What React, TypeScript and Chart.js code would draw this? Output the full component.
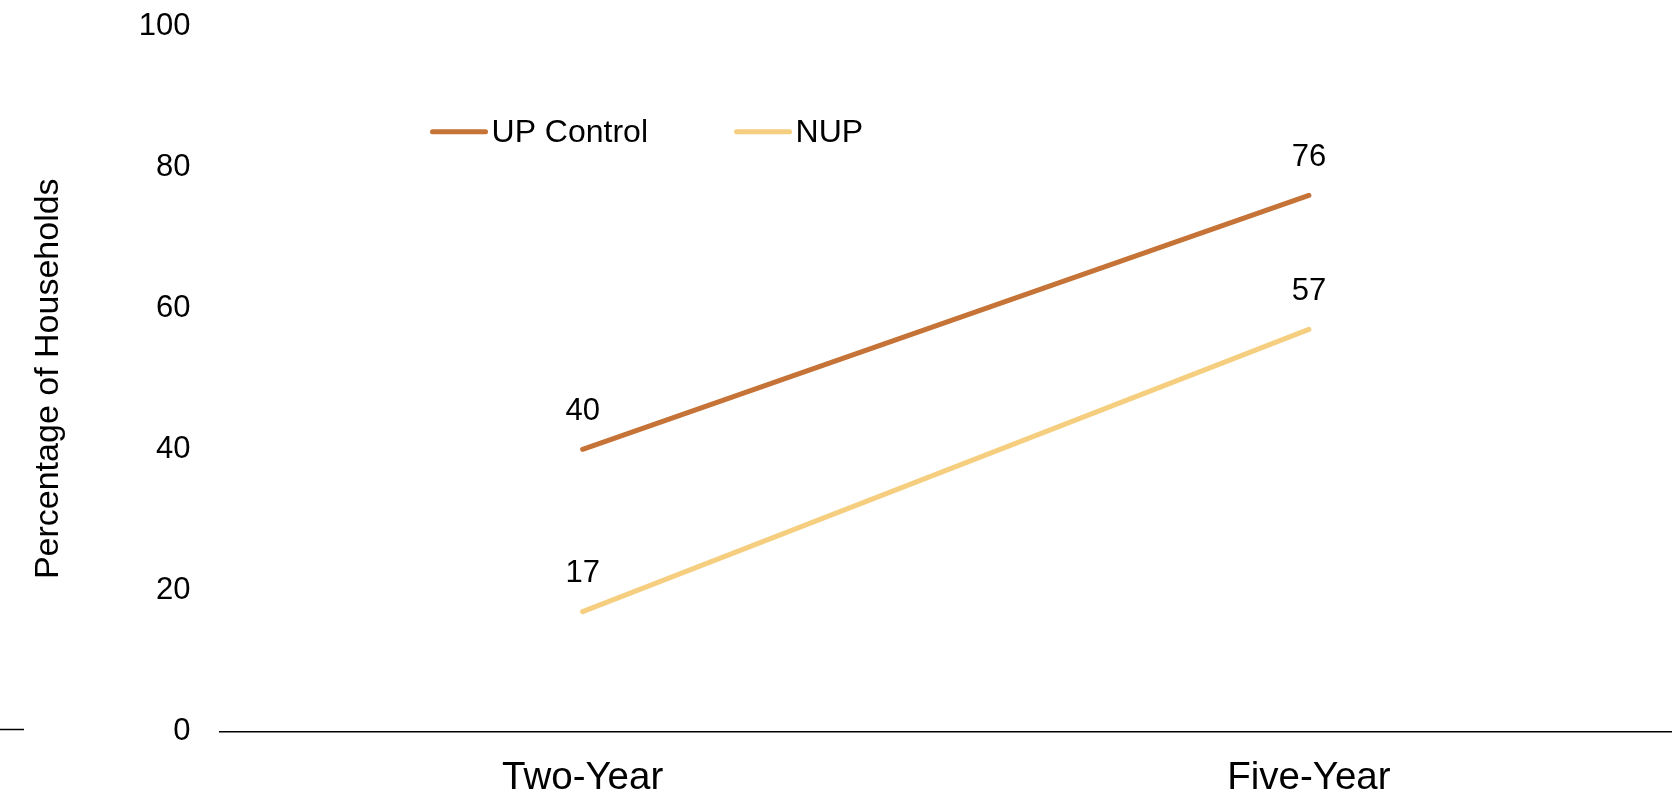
import React, { useEffect, useRef } from "react";
import { Chart, registerables } from "chart.js";

Chart.register(...registerables);

const categories = ["Two-Year", "Five-Year"];
const upControl = [40, 76];
const nup = [17, 57];
const seriesNames = ["UP Control", "NUP"];
const seriesColors = ["#C57337", "#F5CF7F"];
const yTicks = [0, 20, 40, 60, 80, 100];
const yTitle = "Percentage of Households";

const FONT = "'Liberation Sans', Arial, sans-serif";

const dataLabelPlugin = {
  id: "dataLabels",
  afterDatasetsDraw(chart: any) {
    const ctx = chart.ctx;
    ctx.save();
    ctx.fillStyle = "#000";
    ctx.font = "31px " + FONT;
    ctx.textAlign = "center";
    ctx.textBaseline = "middle";
    chart.data.datasets.forEach((ds: any, i: number) => {
      const meta = chart.getDatasetMeta(i);
      meta.data.forEach((pt: any, j: number) => {
        ctx.fillText(String(ds.data[j]), pt.x, pt.y - 38);
      });
    });
    ctx.restore();
  },
};

const legendPlugin = {
  id: "innerLegend",
  afterDraw(chart: any) {
    const ctx = chart.ctx;
    const area = chart.chartArea;
    const y = chart.scales.y.getPixelForValue(85);
    const starts = [area.left + 213, area.left + 517];
    ctx.save();
    ctx.font = "32px " + FONT;
    ctx.textBaseline = "middle";
    ctx.textAlign = "left";
    chart.data.datasets.forEach((ds: any, i: number) => {
      const x0 = starts[i];
      ctx.strokeStyle = ds.borderColor;
      ctx.lineWidth = 5;
      ctx.lineCap = "round";
      ctx.beginPath();
      ctx.moveTo(x0, y);
      ctx.lineTo(x0 + 53, y);
      ctx.stroke();
      ctx.fillStyle = "#000";
      ctx.fillText(ds.label, x0 + 59, y + 1);
    });
    // small stray dash at the far left, level with the baseline
    const y0 = chart.scales.y.getPixelForValue(0) - 2;
    ctx.strokeStyle = "#000";
    ctx.lineWidth = 1.5;
    ctx.lineCap = "butt";
    ctx.beginPath();
    ctx.moveTo(0, y0);
    ctx.lineTo(24, y0);
    ctx.stroke();
    ctx.restore();
  },
};

export default function App() {
  const ref = useRef<HTMLCanvasElement>(null);
  useEffect(() => {
    if (!ref.current) return;
    const chart = new Chart(ref.current, {
      type: "line",
      data: {
        labels: categories,
        datasets: [
          {
            label: seriesNames[0],
            data: upControl,
            borderColor: seriesColors[0],
            backgroundColor: seriesColors[0],
            borderWidth: 5,
            borderCapStyle: "round",
            pointRadius: 0,
            tension: 0,
          },
          {
            label: seriesNames[1],
            data: nup,
            borderColor: seriesColors[1],
            backgroundColor: seriesColors[1],
            borderWidth: 5,
            borderCapStyle: "round",
            pointRadius: 0,
            tension: 0,
          },
        ],
      },
      options: {
        responsive: false,
        animation: false,
        layout: { padding: { top: 26, left: 0, right: 0, bottom: -35 } },
        plugins: {
          legend: { display: false },
          tooltip: { enabled: false },
        },
        scales: {
          x: {
            offset: true,
            grid: { display: false, drawTicks: false },
            border: { display: true, color: "#000", width: 1.5 },
            ticks: {
              color: "#000",
              padding: 28,
              font: { family: FONT, size: 38.5, lineHeight: 1 },
            },
          },
          y: {
            min: 0,
            max: 100,
            afterBuildTicks(scale: any) {
              scale.ticks = yTicks.map((v) => ({ value: v }));
            },
            afterFit(scale: any) {
              scale.paddingTop = 0;
              scale.paddingBottom = 0;
            },
            grid: { display: false, drawTicks: false },
            border: { display: false },
            ticks: {
              color: "#000",
              padding: 29,
              font: { family: FONT, size: 31 },
            },
            title: {
              display: true,
              text: yTitle,
              color: "#000",
              padding: { top: 28, bottom: 41 },
              font: { family: FONT, size: 34, lineHeight: 1.2 },
            },
          },
        },
      },
      plugins: [dataLabelPlugin, legendPlugin],
    });
    return () => chart.destroy();
  }, []);
  return (
    <div style={{ position: "fixed", left: 0, top: 0, width: 1672, height: 791, background: "#fff" }}>
      <canvas ref={ref} width={1672} height={791} />
    </div>
  );
}
